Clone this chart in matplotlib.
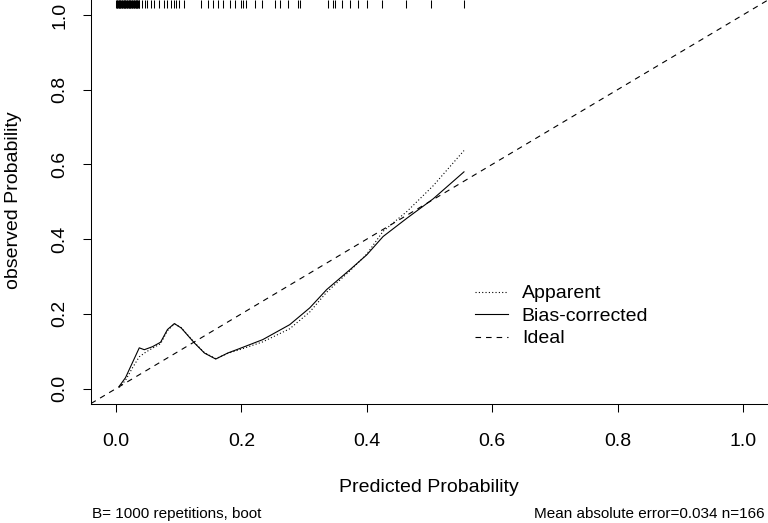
import matplotlib
matplotlib.use("Agg")
import matplotlib.pyplot as plt

plt.rcParams['font.family'] = ['Liberation Sans', 'DejaVu Sans']

# calibration curves (predicted vs observed)
apparent_x = [0.005, 0.015, 0.026, 0.037, 0.047, 0.058, 0.071, 0.082, 0.093, 0.104, 0.125,
              0.141, 0.159, 0.178, 0.197, 0.234, 0.277, 0.309, 0.336, 0.373, 0.400, 0.426,
              0.464, 0.506, 0.555]
apparent_y = [0.003, 0.022, 0.055, 0.085, 0.097, 0.108, 0.120, 0.155, 0.173, 0.163, 0.123,
              0.096, 0.080, 0.094, 0.104, 0.125, 0.160, 0.205, 0.258, 0.315, 0.360, 0.421,
              0.474, 0.543, 0.637]
bias_x = [0.005, 0.015, 0.026, 0.037, 0.045, 0.058, 0.071, 0.082, 0.093, 0.104, 0.125,
          0.141, 0.159, 0.178, 0.197, 0.234, 0.277, 0.309, 0.336, 0.373, 0.400, 0.426,
          0.464, 0.506, 0.555]
bias_y = [0.006, 0.029, 0.069, 0.109, 0.104, 0.112, 0.124, 0.158, 0.174, 0.162, 0.122,
          0.095, 0.079, 0.095, 0.107, 0.131, 0.171, 0.216, 0.265, 0.318, 0.358, 0.407,
          0.456, 0.508, 0.580]

# predicted probabilities shown as rug on top
rug = [0.000, 0.001, 0.002, 0.003, 0.004, 0.005, 0.006, 0.007, 0.008, 0.009, 0.010,
       0.011, 0.012, 0.013, 0.014, 0.015, 0.016, 0.017, 0.018, 0.019, 0.020, 0.021,
       0.022, 0.023, 0.024, 0.025, 0.026, 0.027, 0.028, 0.029, 0.030, 0.031, 0.032,
       0.033, 0.034, 0.035, 0.036, 0.037,
       0.042, 0.046, 0.050, 0.055, 0.061, 0.069, 0.077, 0.082, 0.087, 0.093, 0.095,
       0.101, 0.109, 0.135, 0.146, 0.154, 0.162, 0.170, 0.181, 0.189, 0.200, 0.202,
       0.208, 0.221, 0.232, 0.253, 0.261, 0.274, 0.290, 0.293, 0.338, 0.346, 0.349,
       0.360, 0.373, 0.386, 0.400, 0.425, 0.462, 0.503, 0.555]

ticks = [0.0, 0.2, 0.4, 0.6, 0.8, 1.0]
tick_labels = ["0.0", "0.2", "0.4", "0.6", "0.8", "1.0"]

W, H = 768, 523
fig = plt.figure(figsize=(W / 100, H / 100), dpi=100)
ax = fig.add_axes([91 / W, 119.5 / H, 677 / W, 403.5 / H])
ax.set_xlim(-0.04, 1.04)
ax.set_ylim(-0.04, 1.04)

ax.plot([-0.04, 1.04], [-0.04, 1.04], color='black', lw=0.8, dashes=(5, 4.5), label='Ideal')
ax.plot(apparent_x, apparent_y, color='black', lw=0.8, dashes=(1, 2), label='Apparent')
ax.plot(bias_x, bias_y, color='black', lw=0.8, label='Bias-corrected')

ax.vlines(rug, 1 - 8 / 403.5, 1, transform=ax.get_xaxis_transform(), color='black', lw=0.75)

ax.set_xticks(ticks)
ax.set_xticklabels(tick_labels)
ax.set_yticks(ticks)
ax.set_yticklabels(tick_labels, rotation=90, va='center')
ax.tick_params(axis='both', labelsize=14, length=5.5, width=0.75, direction='out')
ax.tick_params(axis='x', pad=15.5)
ax.tick_params(axis='y', pad=11)
for s in ['top', 'right']:
    ax.spines[s].set_visible(False)
for s in ['left', 'bottom']:
    ax.spines[s].set_linewidth(0.75)

handles, labels = ax.get_legend_handles_labels()
order = [1, 2, 0]
ax.legend([handles[i] for i in order], [labels[i] for i in order],
          loc='upper left', bbox_to_anchor=(467 / W, 1 - 277 / H),
          bbox_transform=fig.transFigure, frameon=False, fontsize=14,
          handlelength=1.7, handletextpad=0.72, labelspacing=0.25, borderaxespad=0)

fig.text(429 / W, 1 - 488 / H, "Predicted Probability", ha='center', va='center', fontsize=14)
fig.text(14 / W, 1 - 200 / H, "observed Probability", ha='center', va='center',
         rotation=90, fontsize=14)
fig.text(92 / W, 1 - 514 / H, "B= 1000 repetitions, boot", ha='left', va='center', fontsize=11)
fig.text(765 / W, 1 - 514 / H, "Mean absolute error=0.034 n=166", ha='right', va='center',
         fontsize=11)

fig.savefig("out.png", dpi=100)
